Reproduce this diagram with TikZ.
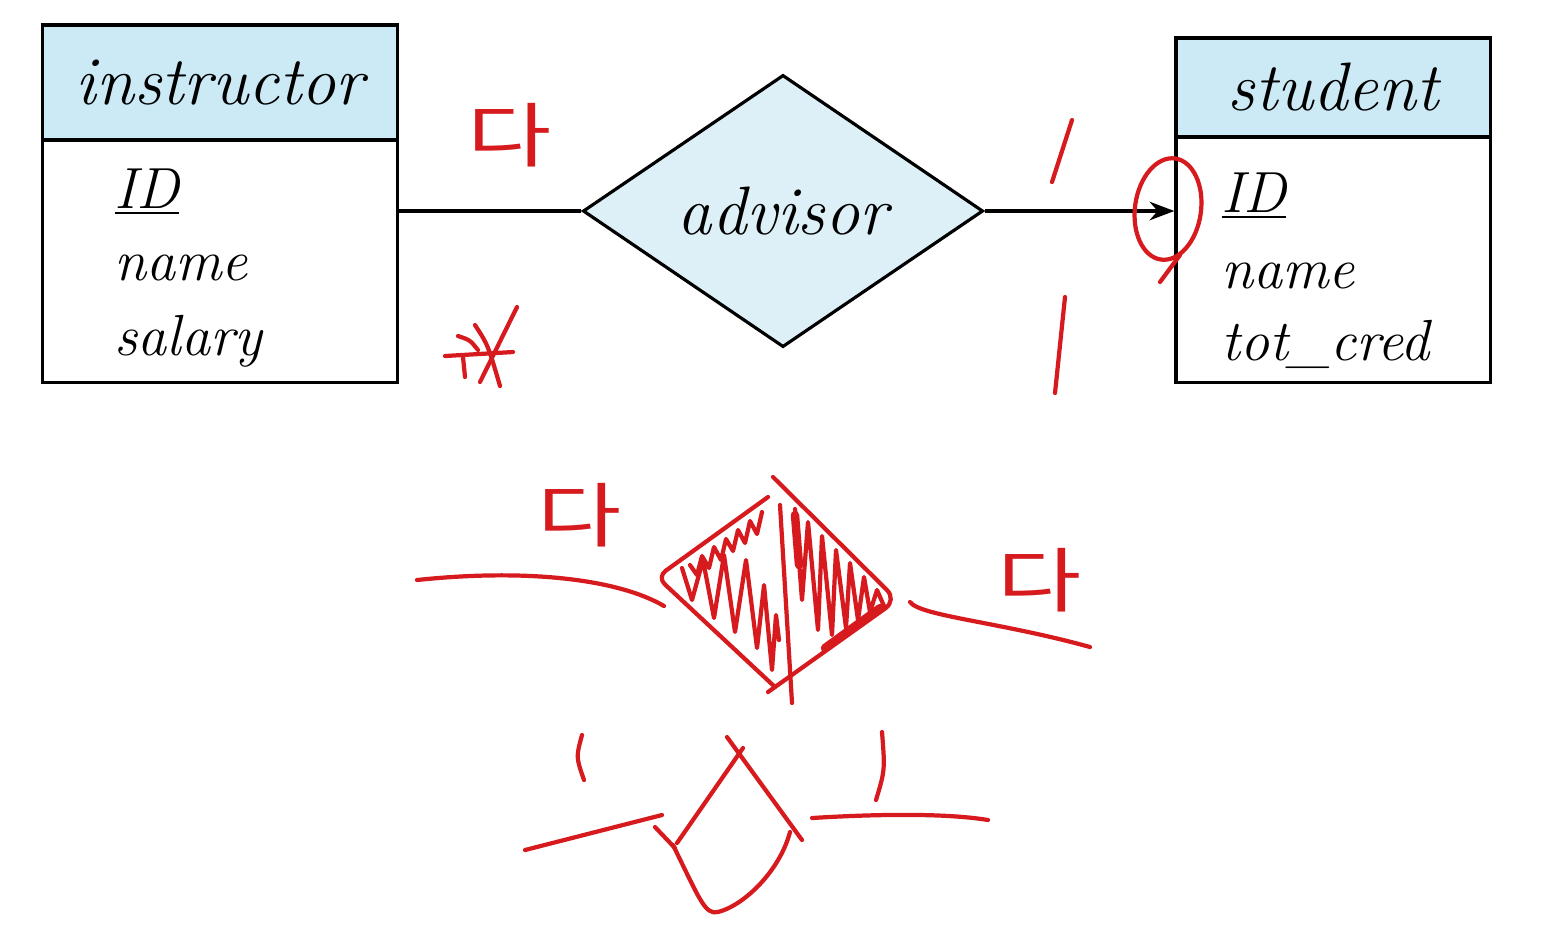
\documentclass[tikz,border=0pt]{standalone}
\usepackage{fontspec}
\newfontfamily\krfont{Noto Sans CJK KR}
\usetikzlibrary{arrows.meta,shapes.geometric}
\definecolor{headblue}{RGB}{204,234,246}
\definecolor{relblue}{RGB}{222,240,247}
\definecolor{ink}{RGB}{214,26,30}

\begin{document}
\begin{tikzpicture}[
  x=0.01cm, y=-0.01cm,
  >=Stealth,
  line width=0.9pt,
  ehead/.style={draw,fill=headblue,inner sep=0,font=\fontsize{19.5}{22}\selectfont\itshape},
  ebody/.style={draw,fill=white,inner sep=0,anchor=north},
  attr/.style={anchor=base west,inner sep=0,font=\fontsize{16.5}{20}\selectfont\itshape},
  rel/.style={diamond,draw,fill=relblue,inner sep=0,aspect=1.47,minimum width=4cm,minimum height=2.72cm,font=\fontsize{19.5}{22}\selectfont\itshape},
  pen/.style={draw=ink,line width=1.2pt,line cap=round,line join=round},
  hand/.style={text=ink,inner sep=0,xscale=1.3,font=\krfont\fontsize{20}{20}\selectfont},
]
  \useasboundingbox (0,0) rectangle (1564,950);

  % entities
  \node[ehead, minimum width=3.54cm, minimum height=1.15cm] (ihead) at (220,82.5) {instructor};
  \node[ebody, minimum width=3.54cm, minimum height=2.42cm] (ibody) at ([yshift=0.9pt]ihead.south) {};
  \node[attr] (iid) at (113,208) {\underline{ID}};
  \node[attr] (iname) at (113,280) {name};
  \node[attr] (isal) at (113,355) {salary};

  \node[ehead, minimum width=3.14cm, minimum height=0.99cm] (shead) at (1333,87.5) {student};
  \node[ebody, minimum width=3.14cm, minimum height=2.45cm] (sbody) at ([yshift=0.9pt]shead.south) {};
  \node[attr] (sid) at (1220,212) {\underline{ID}};
  \node[attr] (sname) at (1220,288) {name};
  \node[attr] (scred) at (1220,360) {tot\_cred};

  % relationship
  \node[rel] (adv) at (783,211) {advisor};
  \draw (ibody.east |- adv.west) -- (adv.west);
  \draw[->] (adv.east) -- (adv.east -| sbody.west);

  % handwritten notes
  \node[hand] (da1) at (510,135) {다};
  \node[hand] (da2) at (580,515) {다};
  \node[hand] (da3) at (1040,580) {다};

  \draw[pen] (445,356) -- (513,352);
  \draw[pen] (517,307) -- (480,382);
  \draw[pen] (475,325) .. controls (488,345) .. (500,386);
  \draw[pen] (458,336) .. controls (470,340) .. (478,350);
  \draw[pen] (463,357) -- (465,377);

  \draw[pen] (1072,120) -- (1052,182);
  \draw[pen] (1065,297) -- (1055,393);
  \draw[pen, rotate around={-8:(1168,209)}] (1168,209) ellipse [x radius=0.33cm, y radius=0.51cm];
  \draw[pen] (1180,255) -- (1160,282);

  % lower sketch: shaded diamond
  \draw[pen] (417,580) .. controls (530,568) and (620,580) .. (664,606);
  \draw[pen] (910,602) .. controls (920,616) and (1000,622) .. (1090,647);
  \draw[pen, rounded corners=3pt] (768,497) -- (657,577) -- (775,687);
  \draw[pen, rounded corners=4pt] (773,477) -- (897,600) -- (768,692);
  \draw[pen] (780,505) -- (792,703);
  \draw[pen] plot coordinates {(682,568) (692,600) (703,560) (714,618) (724,555) (735,632) (746,560) (757,648) (764,585) (772,670) (776,615) (779,640)};
  \draw[pen] plot coordinates {(690,565) (697,575) (702,556) (709,568) (714,547) (721,560) (726,539) (733,551) (738,530) (745,543) (750,521) (757,534) (762,512)};
  \draw[pen] plot coordinates {(795,509) (802,600) (808,522) (818,630) (822,536) (832,635) (836,550) (846,628) (850,563) (858,620) (864,577) (870,612) (877,590) (884,606)};
  \draw[pen, line width=2.4pt] (825,648) -- (880,608);
  \draw[pen, line width=2.4pt] (795,515) -- (799,565);

  % lower sketch: plain diamond
  \draw[pen] (525,850) -- (662,815);
  \draw[pen] (655,827) -- (675,848);
  \draw[pen] (677,843) -- (743,748);
  \draw[pen] (727,737) -- (802,840);
  \draw[pen] (673,845) .. controls (700,900) and (705,915) .. (718,912) .. controls (745,905) and (780,870) .. (790,832);
  \draw[pen] (812,818) .. controls (860,815) and (940,812) .. (988,820);
  \draw[pen] (582,735) .. controls (576,757) .. (584,780);
  \draw[pen] (882,732) .. controls (885,770) .. (876,800);
\end{tikzpicture}
\end{document}
